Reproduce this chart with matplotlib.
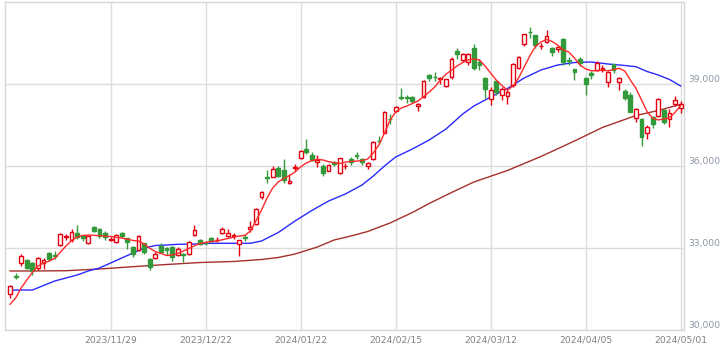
import matplotlib
matplotlib.use("Agg")
from matplotlib import pyplot as plt
import numpy as np

# trading days shown on the chart (Nov 2023 - May 2024)
month_days = [
    ("2023/11", [1, 2, 6, 7, 8, 9, 10, 13, 14, 15, 16, 17, 20, 21, 22, 24, 27, 28, 29, 30]),
    ("2023/12", [1, 4, 5, 6, 7, 8, 11, 12, 13, 14, 15, 18, 19, 20, 21, 22, 25, 26, 27, 28, 29]),
    ("2024/01", [4, 5, 9, 10, 11, 12, 15, 16, 17, 18, 19, 22, 23, 24, 25, 26, 29, 30, 31]),
    ("2024/02", [1, 2, 5, 6, 7, 8, 9, 13, 14, 15, 16, 19, 20, 21, 22, 26, 27, 28, 29]),
    ("2024/03", [1, 4, 5, 6, 7, 8, 11, 12, 13, 14, 15, 18, 19, 21, 22, 25, 26, 27, 28, 29]),
    ("2024/04", [1, 2, 3, 4, 5, 8, 9, 10, 11, 12, 15, 16, 17, 18, 19, 22, 23, 24, 25, 26, 30]),
    ("2024/05", [1]),
]
dates = ["%s/%02d" % (m, d) for m, days in month_days for d in days]

opens = [31310, 31980, 32450, 32560, 32450, 32270, 32450, 32820, 32745, 33110,
         33400, 33290, 33550, 33440, 33180, 33780, 33700, 33550, 33300, 33230,
         33550, 33365, 33050, 32930, 33180, 32600, 32645, 33090, 33000, 33050,
         32745, 32780, 32780, 33475, 33290, 33200, 33380, 33280, 33540, 33450,
         33440, 33150, 33420, 33680, 33880, 34860, 35600, 35615, 35915, 35855,
         35370, 35930, 36280, 36610, 36400, 36160, 36000, 35830, 36160, 35730,
         35990, 36255, 36390, 36240, 36000, 36245, 36900, 37225, 37720, 37995,
         38530, 38510, 38525, 38180, 38525, 39330, 39250, 39200, 38910, 39270,
         40225, 39880, 39820, 40315, 39820, 39210, 38440, 39100, 38600, 38560,
         38950, 39575, 40465, 40900, 40790, 40380, 40520, 40315, 40280, 40650,
         39865, 39540, 39915, 39210, 39390, 39500, 39560, 39060, 39720, 39060,
         38745, 38600, 37740, 37720, 37225, 37805, 37840, 38050, 37720, 38270,
         38110]
highs = [31660, 32080, 32780, 32600, 32500, 32670, 32630, 32850, 32880, 33560,
         33520, 33700, 33840, 33480, 33480, 33800, 33720, 33610, 33420, 33520,
         33600, 33380, 33080, 33470, 33200, 32630, 32860, 33180, 33030, 33090,
         33030, 32810, 33250, 33840, 33330, 33240, 33400, 33390, 33760, 33700,
         33540, 33310, 33530, 34000, 34480, 35100, 35840, 35990, 36010, 36250,
         35720, 36080, 36570, 36980, 36500, 36400, 36060, 36080, 36200, 36310,
         36100, 36330, 36510, 36290, 36150, 36900, 37080, 38000, 37900, 38190,
         38860, 38600, 38570, 38300, 39150, 39380, 39430, 39270, 39200, 39990,
         40315, 40130, 40130, 40470, 39900, 39240, 38900, 39120, 38900, 38800,
         39770, 40040, 40830, 41090, 40810, 40510, 40980, 40340, 40400, 40700,
         40000, 39560, 40000, 39260, 39480, 39830, 39700, 39480, 39740, 39250,
         38800, 38700, 38120, 37750, 37500, 37830, 38480, 38080, 38100, 38550,
         38380]
lows = [31160, 31880, 32340, 32240, 32010, 32195, 32230, 32520, 32600, 33080,
        33300, 33220, 33330, 33240, 33140, 33580, 33380, 33290, 33240, 33190,
        33380, 32950, 32680, 32900, 32790, 32195, 32600, 32800, 32760, 32520,
        32700, 32500, 32740, 33440, 33100, 33110, 33210, 33230, 33510, 33420,
        33320, 32700, 33240, 33600, 33830, 34800, 35370, 35580, 35580, 35370,
        35340, 35820, 36240, 36440, 36190, 35950, 35640, 35800, 36000, 35700,
        35900, 36050, 36250, 36050, 35880, 36230, 36810, 37200, 37550, 37960,
        38400, 38300, 38300, 38000, 38500, 39100, 39100, 38990, 38880, 39200,
        39900, 39800, 39690, 39520, 39500, 38475, 38250, 38600, 38400, 38270,
        38900, 39550, 40400, 40680, 40320, 40280, 40500, 40020, 40160, 39700,
        39700, 39150, 39650, 38600, 39200, 39480, 39450, 38900, 39400, 38790,
        38430, 37960, 37600, 36745, 37000, 37390, 37800, 37550, 37420, 38200,
        37950]
closes = [31601, 31949, 32708, 32271, 32166, 32646, 32568, 32585, 32695, 33519,
          33424, 33585, 33388, 33354, 33451, 33625, 33447, 33408, 33321, 33486,
          33431, 33231, 32775, 33445, 32858, 32307, 32791, 32843, 32926, 32686,
          32970, 32758, 33219, 33675, 33140, 33169, 33254, 33305, 33681, 33539,
          33464, 33288, 33377, 33763, 34441, 35049, 35577, 35901, 35619, 35477,
          35466, 35963, 36546, 36517, 36226, 36236, 35751, 36026, 36065, 36286,
          36011, 36158, 36354, 36160, 36119, 36863, 36897, 37963, 37703, 38157,
          38487, 38470, 38363, 38262, 39098, 39233, 39239, 39208, 39166, 39910,
          40109, 40097, 40090, 39598, 39688, 38820, 38797, 38695, 38807, 38707,
          39740, 40003, 40815, 40888, 40414, 40398, 40762, 40168, 40369, 39803,
          39838, 39451, 39773, 38992, 39347, 39773, 39581, 39442, 39523, 39232,
          38471, 37961, 38079, 37068, 37438, 37552, 38460, 37628, 37934, 38405,
          38274]

# moving average lines (index, value)
ma5_idx = [0, 1, 2, 3, 4, 5, 6, 7, 8, 9, 10, 11, 12, 13, 14, 16, 18, 20, 22, 23,
           24, 25, 26, 27, 28, 29, 30, 31, 32, 33, 34, 35, 37, 39, 41, 42, 43, 44,
           45, 46, 47, 48, 49, 50, 51, 52, 53, 54, 55, 56, 57, 58, 59, 60, 61, 62,
           63, 64, 65, 66, 67, 68, 69, 70, 71, 72, 73, 74, 75, 76, 77, 78, 79, 80,
           81, 82, 83, 84, 85, 86, 87, 88, 89, 90, 91, 92, 93, 94, 95, 96, 97, 98,
           99, 100, 101, 102, 103, 104, 105, 106, 107, 108, 109, 110, 111, 112,
           113, 114, 115, 116, 117, 118, 119, 120]
ma5 = [30940, 31170, 31540, 31830, 32110, 32340, 32450, 32520, 32620, 32850,
       33070, 33270, 33400, 33460, 33475, 33450, 33420, 33365, 33275, 33255,
       33145, 32990, 32870, 32800, 32725, 32745, 32800, 32890, 32980, 33085,
       33165, 33210, 33255, 33350, 33440, 33460, 33620, 33990, 34390, 34830,
       35195, 35415, 35545, 35650, 35780, 35965, 36110, 36195, 36245, 36220,
       36160, 36120, 36090, 36145, 36165, 36180, 36200, 36255, 36475, 36770,
       37205, 37680, 37975, 38120, 38195, 38285, 38380, 38535, 38705, 38890,
       39145, 39355, 39510, 39660, 39785, 39880, 39915, 39880, 39660, 39400,
       39145, 38945, 38780, 38925, 39220, 39620, 40025, 40370, 40535, 40630,
       40555, 40425, 40245, 40170, 39950, 39695, 39550, 39485, 39485, 39500,
       39485, 39525, 39575, 39475, 39145, 38845, 38415, 37985, 37745, 37685,
       37720, 37770, 37965, 38205]
ma25_idx = [0, 4, 6, 8, 10, 12, 14, 16, 18, 20, 22, 24, 26, 28, 30, 33, 36, 40, 43,
            45, 48, 51, 54, 57, 60, 63, 65, 67, 69, 72, 75, 78, 81, 83, 86, 89, 92,
            95, 98, 101, 104, 107, 110, 112, 114, 116, 118, 120]
ma25 = [31463, 31463, 31628, 31793, 31902, 32012, 32159, 32268, 32451, 32634,
        32817, 33000, 33091, 33110, 33135, 33146, 33172, 33172, 33172, 33256,
        33567, 33988, 34372, 34719, 34976, 35305, 35634, 36000, 36329, 36622,
        36951, 37353, 37901, 38195, 38524, 38835, 39219, 39512, 39695, 39786,
        39805, 39732, 39677, 39633, 39457, 39329, 39165, 38927]
ma75_idx = [0, 4, 10, 16, 23, 28, 34, 40, 45, 48, 51, 55, 58, 61, 64, 68, 72, 75,
            79, 83, 89, 95, 101, 106, 112, 116, 120]
ma75 = [32159, 32159, 32169, 32232, 32330, 32396, 32469, 32506, 32579, 32653,
        32780, 33037, 33293, 33439, 33604, 33915, 34299, 34628, 35030, 35415,
        35835, 36348, 36915, 37409, 37848, 38030, 38257]

tick_dates = ["2023/11/29", "2023/12/22", "2024/01/22", "2024/02/15",
              "2024/03/12", "2024/04/05", "2024/05/01"]
price_ticks = [30000, 33000, 36000, 39000]

fig = plt.figure(figsize=(7.24, 3.57), dpi=100)
ax = fig.add_axes([5 / 724, 27 / 357, 679 / 724, 328 / 357])

o = np.array(opens)
h = np.array(highs)
l = np.array(lows)
c = np.array(closes)
x = np.arange(len(c))
up = c >= o

red = "#e4000f"
green = "#339a3c"
col = np.where(up, red, green)

ax.vlines(x, l, h, colors=col, linewidth=1, zorder=3)
ax.bar(x, np.abs(c - o), bottom=np.minimum(o, c), width=0.68,
       color=np.where(up, "white", green), edgecolor=col, linewidth=1, zorder=4)

ax.plot(ma75_idx, ma75, color="#a5302c", lw=1, zorder=2)
ax.plot(ma25_idx, ma25, color="#2a2aff", lw=1, zorder=2)
ax.plot(ma5_idx, ma5, color="#ff2a2a", lw=1, zorder=5)

ax.set_xlim(-0.9, 120.6)
ax.set_ylim(30000, 42000)

ax.set_xticks([dates.index(d) for d in tick_dates])
ax.set_xticklabels(tick_dates)
ax.set_yticks(price_ticks)
ax.set_yticklabels(["{:,}".format(v) for v in price_ticks])
ax.yaxis.tick_right()
for lab in ax.get_yticklabels():
    lab.set_va("bottom")
ax.tick_params(axis="y", length=0, pad=3, labelsize=6.6, labelcolor="#8a96a3")
ax.tick_params(axis="x", length=0, pad=4, labelsize=6.6, labelcolor="#808080")

ax.grid(True, color="#dcdcdc", lw=1)
ax.set_axisbelow(True)
for s in ax.spines.values():
    s.set_color("#d6d6d6")
    s.set_linewidth(1)

fig.savefig("out.png", dpi=100)
